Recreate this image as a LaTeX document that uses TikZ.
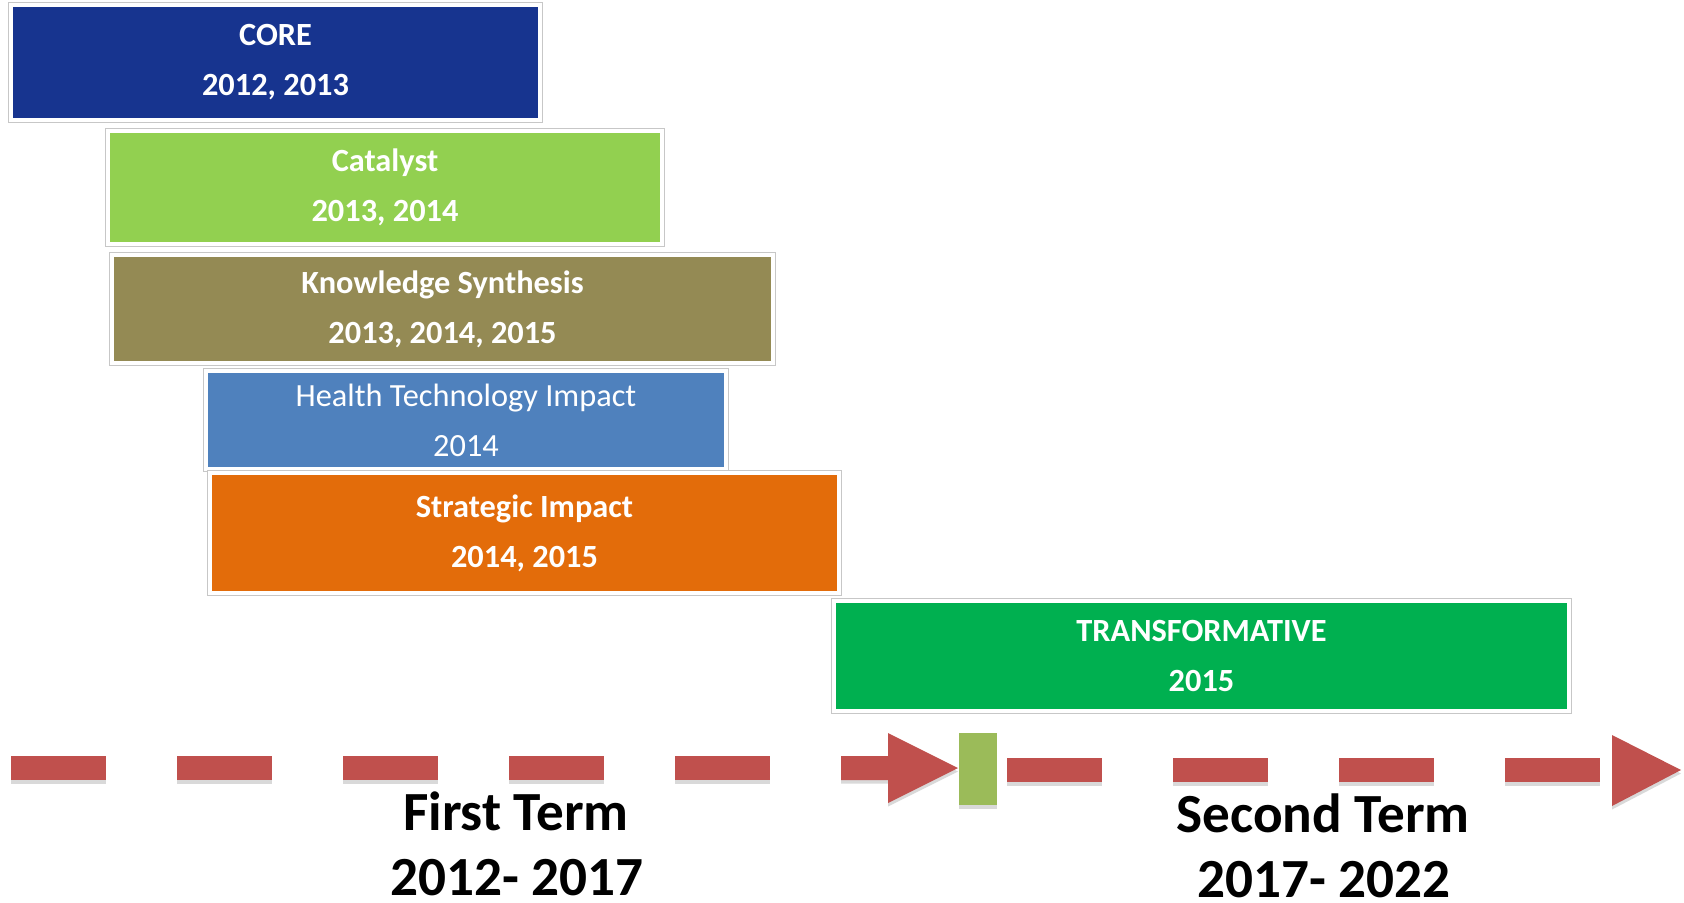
\documentclass[tikz,border=0pt]{standalone}
\usepackage{fontspec}
\setmainfont{Carlito}
\usetikzlibrary{shadows}
\definecolor{coreblue}{RGB}{23,52,143}
\definecolor{catgreen}{RGB}{146,208,80}
\definecolor{synthbrown}{RGB}{148,138,84}
\definecolor{healthblue}{RGB}{79,129,189}
\definecolor{stratorange}{RGB}{227,108,10}
\definecolor{transgreen}{RGB}{0,176,80}
\definecolor{timered}{RGB}{192,80,77}
\definecolor{barolive}{RGB}{155,187,89}

\begin{document}
\begin{tikzpicture}[x=0.01cm, y=-0.01cm,
    box/.style={fill=#1, draw=white, line width=1.14pt, preaction={draw=black!22, line width=1.8pt},
        text=white, align=center, inner sep=0pt, font=\bfseries\fontsize{9.2}{14.2}\selectfont},
    term/.style={font=\bfseries\fontsize{15.7}{18.8}\selectfont, anchor=base, inner sep=0pt},
    dash bar/.style={fill=#1, drop shadow={shadow xshift=0pt, shadow yshift=-1pt, opacity=0.3}},
    dash bar/.default=timered]
    \useasboundingbox (0,0) rectangle (1684,903);
    % programme boxes
    \node[box=coreblue, minimum width=5.29cm, minimum height=1.15cm] (core) at (275.5,62.5) {CORE\\2012, 2013};
    \node[box=catgreen, minimum width=5.54cm, minimum height=1.13cm] (catalyst) at (385,187.5) {Catalyst\\2013, 2014};
    \node[box=synthbrown, minimum width=6.61cm, minimum height=1.08cm] (synthesis) at (442.5,309) {Knowledge Synthesis\\2013, 2014, 2015};
    \node[box=healthblue, minimum width=5.20cm, minimum height=0.98cm, font=\fontsize{9.2}{14.2}\selectfont] (health) at (466,420) {Health Technology Impact\\2014};
    \node[box=stratorange, minimum width=6.29cm, minimum height=1.20cm] (strategic) at (524.5,533) {Strategic Impact\\2014, 2015};
    \node[box=transgreen, minimum width=7.35cm, minimum height=1.10cm] (transform) at (1201.5,656) {TRANSFORMATIVE\\2015};
    % first term
    \foreach \x in {11,177,343,509,675}
        \fill[dash bar] (\x,756) rectangle ++(95,24);
    \fill[dash bar] (841,756) -- (888,756) -- (888,733) -- (958,768) -- (888,803) -- (888,780) -- (841,780) -- cycle;
    \fill[dash bar=barolive] (959,733) rectangle (997,805);
    % second term
    \foreach \x in {1007,1173,1339,1505}
        \fill[dash bar] (\x,758) rectangle ++(95,24);
    \fill[dash bar] (1612,735) -- (1681,770) -- (1612,806) -- cycle;
    \node[term] (first) at (516,830) {First Term};
    \node[term] (firstyears) at (517,895) {2012- 2017};
    \node[term] (second) at (1323,832) {Second Term};
    \node[term] (secondyears) at (1324,897) {2017- 2022};
\end{tikzpicture}
\end{document}
